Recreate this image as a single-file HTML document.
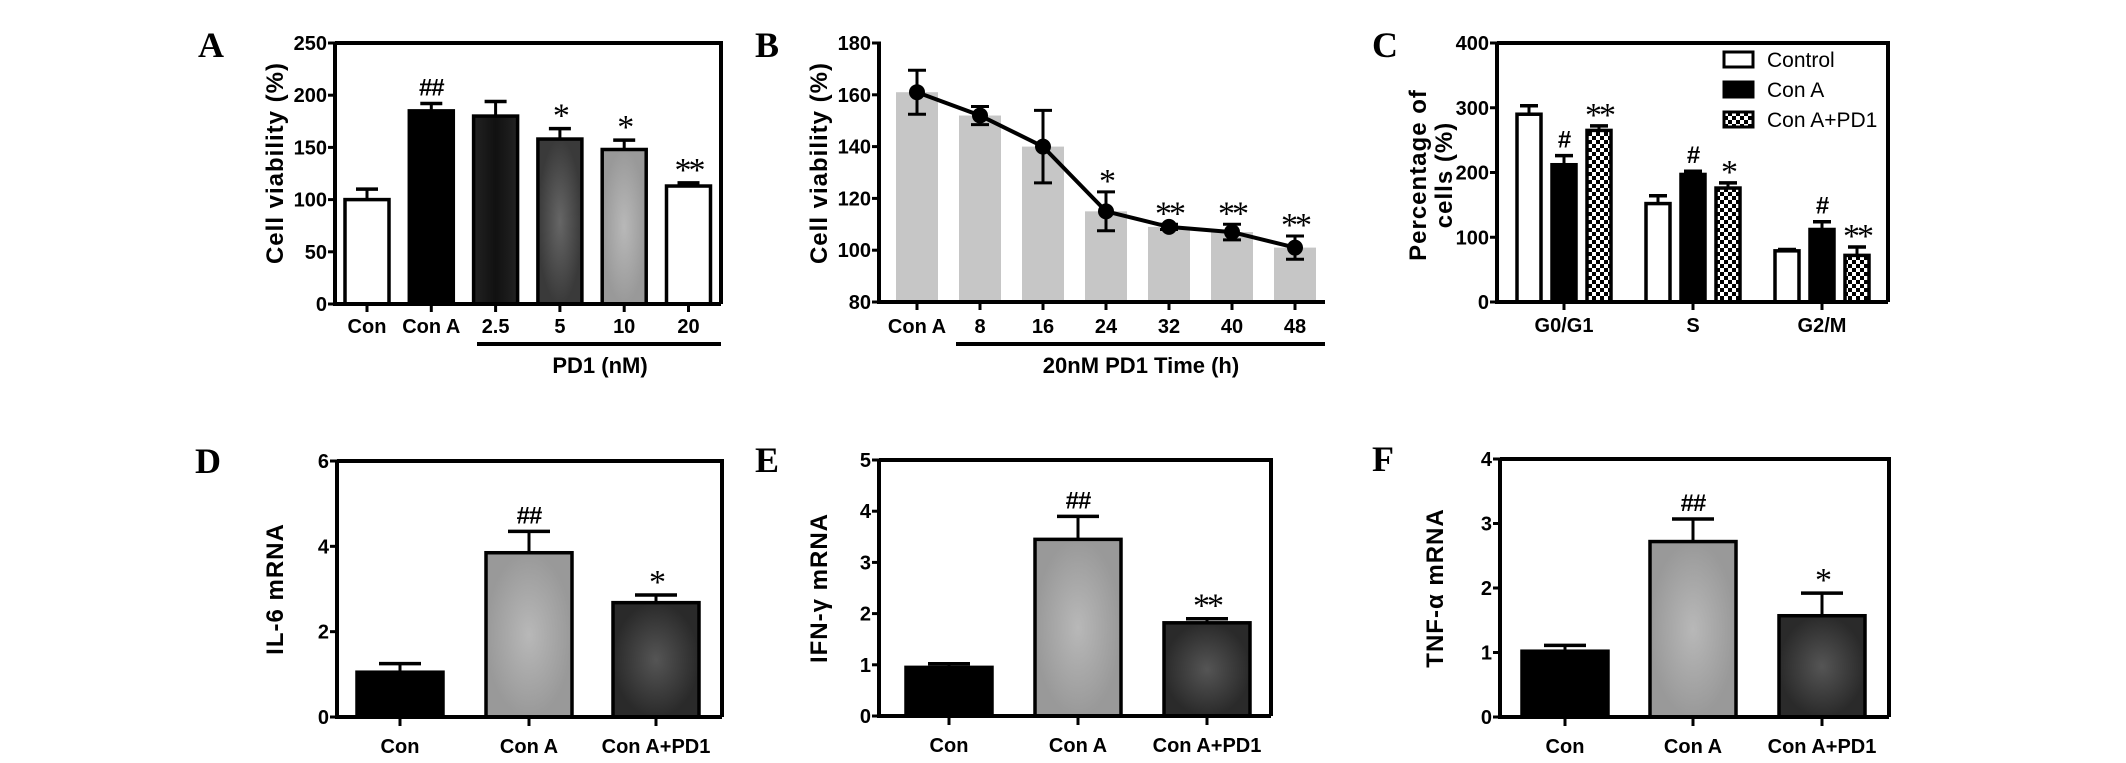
<!DOCTYPE html>
<html><head><meta charset="utf-8"><style>
html,body{margin:0;padding:0;background:#fff;}
</style></head><body>
<svg id="fig" width="2126" height="758" viewBox="0 0 2126 758" xmlns="http://www.w3.org/2000/svg">
<defs>
<pattern id="chk" width="8" height="8" patternUnits="userSpaceOnUse"><rect width="8" height="8" fill="#fff"/><rect width="4" height="4" fill="#000"/><rect x="4" y="4" width="4" height="4" fill="#000"/></pattern>
<linearGradient id="gDark" x1="0" x2="1"><stop offset="0" stop-color="#222"/><stop offset="0.5" stop-color="#111"/><stop offset="1" stop-color="#222"/></linearGradient>
<radialGradient id="gMid"><stop offset="0" stop-color="#666"/><stop offset="1" stop-color="#3a3a3a"/></radialGradient>
<radialGradient id="gLight"><stop offset="0" stop-color="#b8b8b8"/><stop offset="1" stop-color="#999"/></radialGradient>
<radialGradient id="gD3"><stop offset="0" stop-color="#555"/><stop offset="1" stop-color="#2a2a2a"/></radialGradient>
</defs>
</svg>
<script>
// Panel A
const aCats=["Con","Con A","2.5","5","10","20"];
const aVals=[100,185,180,158,148,113];
const aErr=[10,7,14,10,9,3];
const aMarks=["","##","","*","*","**"];
const aTicks=[0,50,100,150,200,250];
// Panel B
const bCats=["Con A","8","16","24","32","40","48"];
const bVals=[161,152,140,115,109,107,101];
const bErr=[8.5,3.5,14,7.5,1,3,4.5];
const bMarks=["","","","*","**","**","**"];
const bTicks=[80,100,120,140,160,180];
// Panel C
const cCats=["G0/G1","S","G2/M"];
const cSeries=["Control","Con A","Con A+PD1"];
const cControl=[290,152,79];
const cConA=[212,197,112];
const cPD1=[265,176,72];
const cErrControl=[13,12,2];
const cErrConA=[14,5,12];
const cErrPD1=[7,8,13];
const cMarksConA=["#","#","#"];
const cMarksPD1=["**","*","**"];
const cTicks=[0,100,200,300,400];
// Panels D,E,F
const mCats=["Con","Con A","Con A+PD1"];
const dVals=[1.05,3.85,2.68];const dErr=[0.2,0.5,0.18];const dMarks=["","##","*"];const dTicks=[0,2,4,6];
const eVals=[0.95,3.45,1.82];const eErr=[0.07,0.45,0.08];const eMarks=["","##","**"];const eTicks=[0,1,2,3,4,5];
const fVals=[1.02,2.72,1.57];const fErr=[0.09,0.35,0.35];const fMarks=["","##","*"];const fTicks=[0,1,2,3,4];

const svg=document.getElementById('fig');
const NS="http://www.w3.org/2000/svg";
function mk(tag,attrs,parent){const e=document.createElementNS(NS,tag);for(const k in attrs)e.setAttribute(k,attrs[k]);(parent||svg).appendChild(e);return e;}
function txt(s,x,y,size,opts,parent){const t=mk('text',Object.assign({x:x,y:y,'font-size':size,'text-anchor':'middle',fill:'#000','font-family':'"Liberation Sans Narrow","Liberation Sans",sans-serif','font-weight':'bold'},opts||{}),parent);t.textContent=s;return t;}
function scale(min,max,y0,y1){return v=>y0-(v-min)/(max-min)*(y0-y1);}

function frame(g,x0,x1,yTop,yBot,ticks,ys,box,name){
  const ax=mk('g',{},g);
  
  
  mk('line',{x1:x0,y1:yTop-1.5,x2:x0,y2:yBot+1.5,stroke:'#000','stroke-width':4},ax);
  mk('line',{x1:x0-2,y1:yBot,x2:x1,y2:yBot,stroke:'#000','stroke-width':4},g);
  if(box){mk('line',{x1:x0,y1:yTop,x2:x1,y2:yTop,stroke:'#000','stroke-width':4},g);
    mk('line',{x1:x1,y1:yTop-2,x2:x1,y2:yBot,stroke:'#000','stroke-width':4},g);}
  ticks.forEach(v=>{const y=ys(v);mk('line',{x1:x0-7,y1:y,x2:x0,y2:y,stroke:'#000','stroke-width':3},ax);
    const t=txt(String(v),x0-8,y+7,20,{'text-anchor':'end'},ax);
    
    });
}
function bar(g,cx,w,yb,yv,fill,name){const r=mk('rect',{x:cx-w/2,y:Math.min(yv,yb),width:w,height:Math.abs(yb-yv),fill:fill,stroke:'#000','stroke-width':3.5},g);
  
  return r;}
function errUp(g,cx,yv,ye,cw){mk('line',{x1:cx,y1:yv,x2:cx,y2:ye,stroke:'#000','stroke-width':3},g);mk('line',{x1:cx-cw,y1:ye,x2:cx+cw,y2:ye,stroke:'#000','stroke-width':3.5},g);}
function mark(g,s,x,y){if(!s)return;const isStar=s.indexOf('*')>=0;
  const t=txt(s,x,isStar?y+6:y,isStar?34:24,{'font-family':isStar?'"Liberation Serif",serif':'"Liberation Sans Narrow","Liberation Sans",sans-serif','font-weight':isStar?'normal':'bold','letter-spacing':isStar?'-3':'-1'},g);
  
  }
function letter(s,x,y){const t=txt(s,x,y,36,{'font-family':'"Liberation Serif",serif','font-weight':'bold'});
  
  }
function ylabel(g,s,x,y){const t=txt(s,x,y,24,{transform:'rotate(-90 '+x+' '+y+')','font-family':'"Liberation Sans",sans-serif','letter-spacing':'1'},g);
  
  return t;}
function catLabel(g,s,x,y){const t=txt(s,x,y,20,{},g);
  
  }

// ---- Panel A
(function(){const g=mk('g',{});
 const x0=335,x1=721,yT=43,yB=304,ys=scale(0,250,yB,yT);
 letter('A',211,57);
 const fills=['#fff','#000','url(#gDark)','url(#gMid)','url(#gLight)','#fff'];
 aCats.forEach((c,i)=>{const cx=367+i*64.3;
   const yv=ys(aVals[i]);bar(g,cx,44,yB,yv,fills[i],'bar-'+c.replace(/\W+/g,'-').toLowerCase());
   const ye=ys(aVals[i]+aErr[i]);errUp(g,cx,yv,ye,11);mark(g,aMarks[i],cx,ye-8);
   mk('line',{x1:cx,y1:yB,x2:cx,y2:yB+8,stroke:'#000','stroke-width':3},g);catLabel(g,c,cx,333);});
 frame(g,x0,x1,yT,yB,aTicks,ys,true,'panel-a');
 ylabel(g,'Cell viability (%)',283,163);
 mk('line',{x1:477,y1:344,x2:721,y2:344,stroke:'#000','stroke-width':4},g);
 const t=txt('PD1 (nM)',600,373,22,{},g);
})();
// ---- Panel B
(function(){const g=mk('g',{});
 const x0=879,x1=1325,yT=43,yB=302,ys=scale(80,180,yB,yT);
 letter('B',767,57);
 const pts=[];
 bCats.forEach((c,i)=>{const cx=917+i*63;const yv=ys(bVals[i]);
   const r=mk('rect',{x:cx-21,y:yv,width:42,height:yB-yv,fill:'#c6c6c6'},g);
   
   
   pts.push([cx,yv]);
   mk('line',{x1:cx,y1:yB,x2:cx,y2:yB+8,stroke:'#000','stroke-width':3},g);catLabel(g,c,cx,333);});
 const pl=mk('polyline',{points:pts.map(p=>p.join(',')).join(' '),fill:'none',stroke:'#000','stroke-width':4},g);
 
 bCats.forEach((c,i)=>{const cx=pts[i][0];const yu=ys(bVals[i]+bErr[i]),yd=ys(bVals[i]-bErr[i]);
   mk('line',{x1:cx,y1:yu,x2:cx,y2:yd,stroke:'#000','stroke-width':3},g);
   mk('line',{x1:cx-9,y1:yu,x2:cx+9,y2:yu,stroke:'#000','stroke-width':3},g);
   mk('line',{x1:cx-9,y1:yd,x2:cx+9,y2:yd,stroke:'#000','stroke-width':3},g);
   const p=mk('circle',{cx:cx,cy:pts[i][1],r:8,fill:'#000'},g);
   
   mark(g,bMarks[i],cx,yu-6);});
 frame(g,x0,x1,yT,yB,bTicks,ys,false,'panel-b');
 ylabel(g,'Cell viability (%)',827,163);
 mk('line',{x1:956,y1:344,x2:1325,y2:344,stroke:'#000','stroke-width':4},g);
 const t=txt('20nM PD1 Time (h)',1141,373,22,{},g);
})();
// ---- Panel C
(function(){const g=mk('g',{});
 const x0=1497,x1=1888,yT=43,yB=302,ys=scale(0,400,yB,yT);
 letter('C',1385,57);
 const series=[cControl,cConA,cPD1],errs=[cErrControl,cErrConA,cErrPD1],fills=['#fff','#000','url(#chk)'],offs=[-35,0,35];
 cCats.forEach((c,i)=>{const gc=1564+i*129;
   series.forEach((s,k)=>{const cx=gc+offs[k];const yv=ys(s[i]);bar(g,cx,24,yB,yv,fills[k],'bar-'+c.replace(/\W+/g,'-').toLowerCase()+'-'+cSeries[k].replace(/\W+/g,'-').toLowerCase());
     const ye=ys(s[i]+errs[k][i]);errUp(g,cx,yv,ye,9);
     if(k==1)mark(g,cMarksConA[i],cx,ye-8);if(k==2)mark(g,cMarksPD1[i],cx,ye-6);});
   mk('line',{x1:gc,y1:yB,x2:gc,y2:yB+8,stroke:'#000','stroke-width':3},g);catLabel(g,c,gc,332);});
 frame(g,x0,x1,yT,yB,cTicks,ys,true,'panel-c');
 ylabel(g,'Percentage of',1426,175);ylabel(g,'cells (%)',1452,175);
 const lg=mk('g',{},g);
 cSeries.forEach((s,k)=>{const y=52+k*30;
   const e=mk('g',{},lg);
   mk('rect',{x:1724,y:y,width:29,height:15,fill:fills[k],stroke:'#000','stroke-width':3},e);
   txt(s,1767,y+15,21,{'text-anchor':'start','font-weight':'normal','font-family':'"Liberation Sans",sans-serif'},e);});
})();
// ---- Panels D,E,F
function mpanel(id,L,lx,x0,x1,yT,yB,max,vals,errs,marks,ticks,title,tx,cxs){
 const g=mk('g',{});
 const ys=scale(0,max,yB,yT);letter(L,lx,yT+12);
 const fills=['#000','url(#gLight)','url(#gD3)'];
 mCats.forEach((c,i)=>{const cx=cxs[i];const yv=ys(vals[i]);bar(g,cx,86,yB,yv,fills[i],'bar-'+c.replace(/\W+/g,'-').toLowerCase());
   const ye=ys(vals[i]+errs[i]);errUp(g,cx,yv,ye,21);mark(g,marks[i],cx,ye-8);
   mk('line',{x1:cx,y1:yB,x2:cx,y2:yB+9,stroke:'#000','stroke-width':3},g);catLabel(g,c,cx,yB+36);});
 frame(g,x0,x1,yT,yB,ticks,ys,true,'panel-'+id);
 ylabel(g,title,tx,(yT+yB)/2);
}
mpanel('d','D',208,337,722,461,717,6,dVals,dErr,dMarks,dTicks,'IL-6 mRNA',283,[400,529,656]);
mpanel('e','E',767,879,1271,460,716,5,eVals,eErr,eMarks,eTicks,'IFN-γ mRNA',827,[949,1078,1207]);
mpanel('f','F',1383,1500,1889,459,717,4,fVals,fErr,fMarks,fTicks,'TNF-α mRNA',1443,[1565,1693,1822]);
</script>
</body></html>
